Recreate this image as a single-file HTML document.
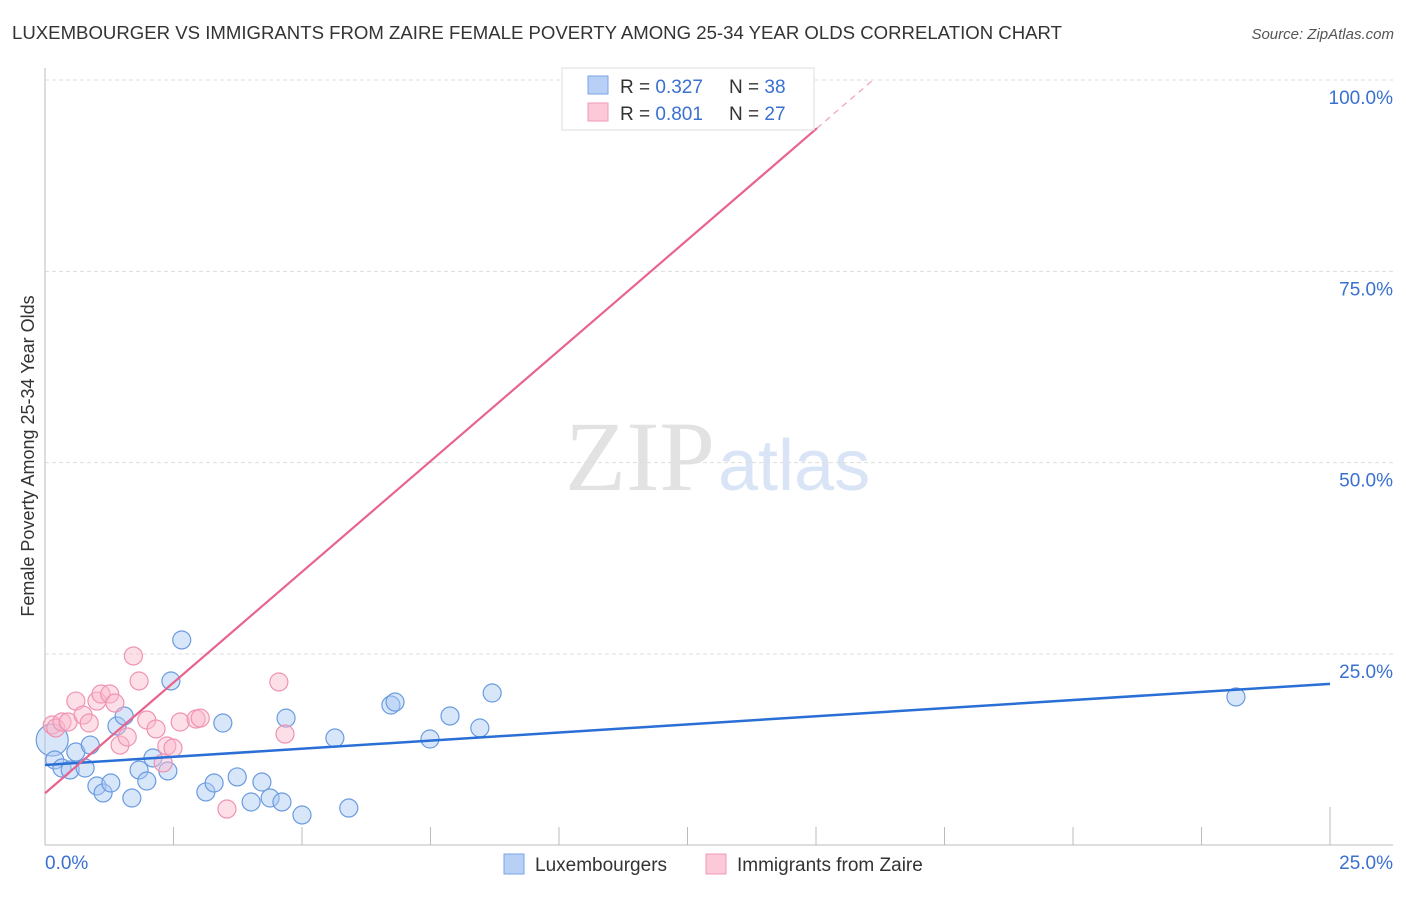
<!DOCTYPE html>
<html><head><meta charset="utf-8"><style>
body{margin:0;background:#fff;font-family:"Liberation Sans",sans-serif}
</style></head><body>
<svg id="c" width="1406" height="892" font-family="Liberation Sans, sans-serif" xmlns="http://www.w3.org/2000/svg">
<text x="12" y="39" font-size="18" fill="#333" textLength="1050" lengthAdjust="spacingAndGlyphs">LUXEMBOURGER VS IMMIGRANTS FROM ZAIRE FEMALE POVERTY AMONG 25-34 YEAR OLDS CORRELATION CHART</text>
<text x="1394" y="39" font-size="15" fill="#555" font-style="italic" text-anchor="end">Source: ZipAtlas.com</text>
<text transform="translate(34,456) rotate(-90)" font-size="18" fill="#333" text-anchor="middle">Female Poverty Among 25-34 Year Olds</text>
<text x="715" y="490" font-size="100" fill="#e2e2e2" text-anchor="end" style="font-family:'Liberation Serif',serif">ZIP</text>
<text x="718" y="490" font-size="72" fill="#d9e5f6">atlas</text>
<g id="grid"></g><g id="axes"></g><g id="marks"></g>
<g>
<rect x="562" y="68" width="252" height="62" fill="#fff" stroke="#ddd"/>
<rect x="588" y="76" width="20" height="18" fill="#b8d0f5" stroke="#7aa5e6"/>
<text x="620" y="93" font-size="19" fill="#333">R = <tspan fill="#3a70d0">0.327</tspan></text>
<text x="729" y="93" font-size="19" fill="#333">N = <tspan fill="#3a70d0">38</tspan></text>
<rect x="588" y="103" width="20" height="18" fill="#fcc9d8" stroke="#f19ab5"/>
<text x="620" y="120" font-size="19" fill="#333">R = <tspan fill="#3a70d0">0.801</tspan></text>
<text x="729" y="120" font-size="19" fill="#333">N = <tspan fill="#3a70d0">27</tspan></text>
</g>
<g>
<rect x="504" y="854" width="20" height="20" fill="#b8d0f5" stroke="#7aa5e6"/>
<text x="535" y="871" font-size="19" fill="#333">Luxembourgers</text>
<rect x="706" y="854" width="20" height="20" fill="#fcc9d8" stroke="#f19ab5"/>
<text x="737" y="871" font-size="19" fill="#333">Immigrants from Zaire</text>
</g>
</svg>
<script>
const blueX=[0.14,0.19,0.33,0.49,0.78,0.60,0.88,1.01,1.13,1.28,1.40,1.54,1.69,1.83,1.98,2.10,2.39,2.45,2.66,3.13,3.29,3.46,3.74,4.01,4.22,4.38,4.61,4.69,5.00,5.64,5.91,6.73,6.81,7.49,7.88,8.46,8.70,23.17];
const blueY=[13.76,11.15,10.1,9.84,10.1,12.19,13.1,7.75,6.84,8.14,15.59,16.9,6.18,9.84,8.4,11.41,9.71,21.47,26.83,6.97,8.14,15.98,8.93,5.66,8.27,6.18,5.66,16.62,3.96,14.02,4.87,18.33,18.72,13.89,16.9,15.33,19.9,19.38];
const pinkX=[0.14,0.21,0.33,0.45,0.60,0.74,0.86,1.01,1.09,1.26,1.36,1.46,1.60,1.72,1.83,1.98,2.16,2.30,2.37,2.49,2.63,2.94,3.02,3.54,4.55,4.67,11.91];
const pinkY=[15.72,15.33,16.11,16.11,18.85,17.02,15.98,18.85,19.77,19.77,18.59,13.1,14.15,24.74,21.47,16.37,15.2,10.76,12.98,12.71,16.11,16.5,16.62,4.74,21.34,14.54,100.0];
const blueTrend=[10.5,21.1];
const pinkTrend=[6.8,93.7,15.02];
const yTicks=[25,50,75,100];
const yTickLabels=["25.0%","50.0%","75.0%","100.0%"];
const NS="http://www.w3.org/2000/svg";
const X=v=>45+v*51.4, Y=v=>845.3-v*7.653;
function mk(p,t,a){const e=document.createElementNS(NS,t);for(const k in a)e.setAttribute(k,a[k]);document.getElementById(p).appendChild(e);return e;}
yTicks.forEach((t,i)=>{
 const g=mk('grid','line',{x1:45,x2:1393,y1:Y(t),y2:Y(t),stroke:'#ddd','stroke-dasharray':'4,3'});
 
 
 const l=mk('grid','text',{x:1393,y:Y(t)+24,'font-size':19,fill:'#3a70d0','text-anchor':'end'});
 l.textContent=yTickLabels[i];
 
 
});
let ax=mk('axes','line',{x1:45,x2:45,y1:68,y2:845,stroke:'#bbb'});


ax=mk('axes','line',{x1:45,x2:1393,y1:845,y2:845,stroke:'#bbb'});


for(let i=0;i<=10;i++){const v=i*2.5;const t=mk('axes','line',{x1:X(v),x2:X(v),y1:i==10?807:827,y2:845,stroke:'#bbb'});
 
 }
let xl=mk('axes','text',{x:45,y:869,'font-size':19,fill:'#3a70d0'});xl.textContent='0.0%';


xl=mk('axes','text',{x:1393,y:869,'font-size':19,fill:'#3a70d0','text-anchor':'end'});xl.textContent='25.0%';


blueX.forEach((v,i)=>{const c=mk('marks','circle',{cx:X(v),cy:Y(blueY[i]),r:i==0?16:9,fill:'rgba(168,199,242,0.45)',stroke:'#6a9be0','stroke-width':1.2});
 
 });
pinkX.forEach((v,i)=>{const c=mk('marks','circle',{cx:X(v),cy:Y(pinkY[i]),r:9,fill:'rgba(250,185,205,0.45)',stroke:'#ef93b2','stroke-width':1.2});
 
 });
let tl=mk('marks','line',{x1:X(0),y1:Y(blueTrend[0]),x2:X(25),y2:Y(blueTrend[1]),stroke:'#2a6fd6','stroke-width':2.5});


const slope=(pinkTrend[1]-pinkTrend[0])/pinkTrend[2];
tl=mk('marks','line',{x1:X(0),y1:Y(pinkTrend[0]),x2:X(pinkTrend[2]),y2:Y(pinkTrend[1]),stroke:'#e8648f','stroke-width':2.2});


const xe=(100-pinkTrend[0])/slope;
tl=mk('marks','line',{x1:X(pinkTrend[2]),y1:Y(pinkTrend[1]),x2:X(xe),y2:Y(100),stroke:'#f0a0b8','stroke-width':1.2,'stroke-dasharray':'6,5'});


</script>
</body></html>
